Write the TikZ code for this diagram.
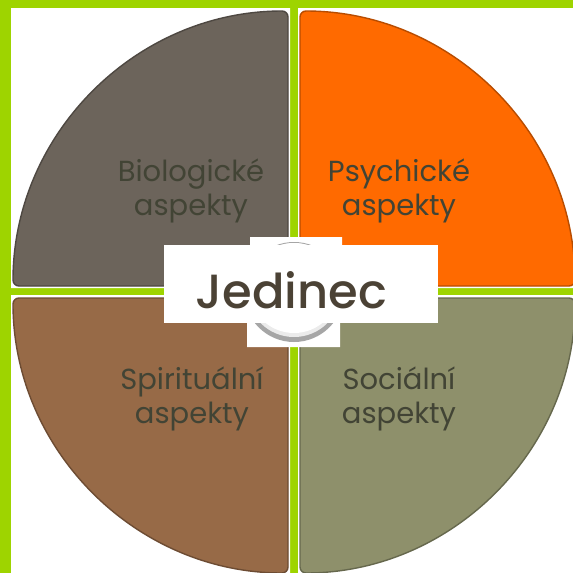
\documentclass[tikz,border=0pt]{standalone}
\usepackage{fontspec}
\setmainfont{Poppins}
\newfontfamily\namefont{Poppins}[UprightFont=* Medium]
\definecolor{mylime}{RGB}{158,212,0}
\definecolor{mygrey}{RGB}{108,100,91}
\definecolor{myorange}{RGB}{255,106,0}
\definecolor{mybrown}{RGB}{151,106,71}
\definecolor{myolive}{RGB}{142,144,107}
\definecolor{mytext}{RGB}{66,68,53}
\definecolor{myname}{RGB}{75,66,53}

\begin{document}
\begin{tikzpicture}[x=1pt,y=-1pt,
  quad/.style={fill=#1,draw=#1!72!black,line width=1.4pt,rounded corners=6pt},
  aspect/.style={align=center,text=mytext,inner sep=0pt,
    font=\fontsize{29}{34}\selectfont},
  centre/.style={text=myname,inner sep=0pt,
    font=\namefont\fontsize{48}{52}\selectfont}]

 \useasboundingbox (0,0) rectangle (573,573);
 \clip (0,0) rectangle (573,573);
 \fill[mylime] (0,0) rectangle (573,573);

 % white panels behind the quarters
 \fill[white] (11,8) rectangle (290,288)
   (298,8) rectangle (573,288)
   (11,295) rectangle (290,573)
   (298,295) rectangle (573,573);

 % the four quarters
 \draw[quad=mygrey] (288,286) -- (13,286) arc[start angle=180,end angle=270,radius=275] -- cycle;
 \draw[quad=myorange] (300,286) -- (300,11) arc[start angle=270,end angle=360,radius=275] -- cycle;
 \draw[quad=mybrown] (288,298) -- (288,573) arc[start angle=90,end angle=180,radius=275] -- cycle;
 \draw[quad=myolive] (300,298) -- (575,298) arc[start angle=0,end angle=90,radius=275] -- cycle;

 \node[aspect] (bio) at (191,191) {Biologické\\aspekty};
 \node[aspect] (psy) at (399,191) {Psychické\\aspekty};
 \node[aspect] (spi) at (192,399) {Spirituální\\aspekty};
 \node[aspect] (soc) at (399,399) {Sociální\\aspekty};

 % centre ring and label
 \fill[white] (250,237) rectangle (342,245)
   (247,323) rectangle (340,347);
 \fill[black!35] (294,292) circle[radius=50];
 \fill[black!8] (294,290) circle[radius=47];
 \fill[white] (294,288) circle[radius=45];
 \fill[white] (164,245) rectangle (438,323);
 \node[centre,anchor=base] (jed) at (291.5,308) {Jedinec};

\end{tikzpicture}
\end{document}
